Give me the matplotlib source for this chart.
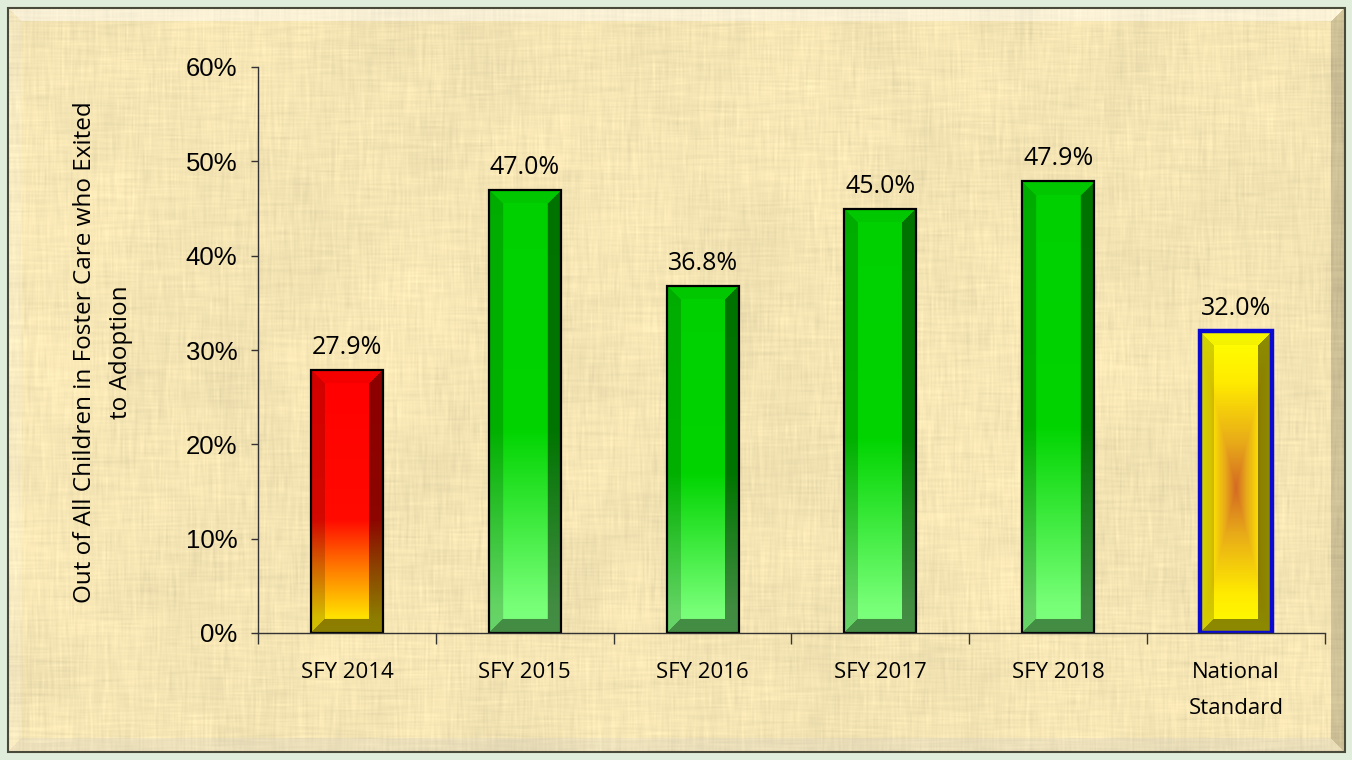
import numpy as np
import matplotlib.pyplot as plt
from matplotlib.patches import Rectangle

# data
categories = ["SFY 2014", "SFY 2015", "SFY 2016", "SFY 2017", "SFY 2018", "National\nStandard"]
values = [0.279, 0.470, 0.368, 0.450, 0.479, 0.320]
kinds = ["red", "green", "green", "green", "green", "yellow"]
yticks = [0, 0.1, 0.2, 0.3, 0.4, 0.5, 0.6]
ylabel = "Out of All Children in Foster Care who Exited\nto Adoption"

W_FIG, H_FIG, DPI = 1352, 760, 100
fig = plt.figure(figsize=(W_FIG / DPI, H_FIG / DPI), dpi=DPI)
fig.patch.set_facecolor("#e1eddb")


def blur(a, k, axis):
    # simple box blur along one axis
    c = np.cumsum(np.pad(a, [(k, k) if i == axis else (0, 0) for i in range(a.ndim)], mode="edge"), axis=axis)
    n = a.shape[axis]
    hi = np.take(c, np.arange(2 * k, 2 * k + n), axis=axis)
    lo = np.take(c, np.arange(0, n), axis=axis)
    return (hi - lo) / (2 * k)


# parchment texture for the panel (decoration only)
px, py, pw, ph = 8, 8, 1337, 744
rng = np.random.default_rng(7)
vert = blur(np.repeat(rng.normal(size=(ph // 18 + 1, pw)), 18, axis=0)[:ph], 1, 1)
vert = blur(vert, 10, 0)
horz = blur(np.repeat(rng.normal(size=(ph, pw // 22 + 1)), 22, axis=1)[:, :pw], 1, 0)
horz = blur(horz, 12, 1)
blot = np.kron(rng.normal(size=(ph // 50 + 1, pw // 50 + 1)), np.ones((50, 50)))[:ph, :pw]
blot = blur(blur(blot, 35, 0), 35, 1)
shade = 0.02 * vert + 0.018 * horz + 0.015 * blot
base = np.array([245, 229, 180]) / 255.0
tex = np.clip(base[None, None, :] * (1 + shade[..., None]), 0, 1)

# bevel on the panel
yy, xx = np.mgrid[0:ph, 0:pw]
d = np.stack([yy, pw - 1 - xx, ph - 1 - yy, xx])  # top, right, bottom, left
edge = d.argmin(axis=0)
inb = d.min(axis=0) < 14
white = np.ones(3)
for e, (mix, f) in enumerate([(0.45, 1.0), (0.0, 0.84), (0.2, 0.95), (0.15, 1.0)]):
    m = inb & (edge == e)
    tex[m] = (tex[m] * (1 - mix) + white * mix) * f

bg = fig.add_axes([px / W_FIG, (H_FIG - py - ph) / H_FIG, pw / W_FIG, ph / H_FIG], zorder=0)
bg.imshow(tex, aspect="auto", interpolation="bilinear")
bg.axis("off")
fig.patches.append(Rectangle((px / W_FIG, (H_FIG - py - ph) / H_FIG), pw / W_FIG, ph / H_FIG,
                             transform=fig.transFigure, fill=False, edgecolor="#4a4a3a", lw=1.5, zorder=1))

# main axes
ax_l, ax_r, ax_t, ax_b = 258, 1325, 67, 633
ax = fig.add_axes([ax_l / W_FIG, (H_FIG - ax_b) / H_FIG, (ax_r - ax_l) / W_FIG, (ax_b - ax_t) / H_FIG], zorder=2)
ax.set_facecolor("none")
ax.set_xlim(-0.5, len(categories) - 0.5)
ax.set_ylim(0, 0.6)

px_per_x = (ax_r - ax_l) / len(categories)
px_per_y = (ax_b - ax_t) / 0.6
bar_w = 72 / px_per_x
bev = 14


def interp_rgb(t, stops, cols):
    cols = np.array(cols) / 255.0
    return np.stack([np.interp(t, stops, cols[:, i]) for i in range(3)], axis=-1)


def bar_image(kind, hpx, wpx):
    r, c = np.mgrid[0:hpx, 0:wpx]
    fb = 1 - r / max(hpx - 1, 1)  # fraction from bottom
    if kind == "red":
        img = interp_rgb(fb, [0, 0.06, 0.25, 0.43, 1],
                         [(255, 232, 0), (255, 225, 0), (255, 120, 0), (255, 10, 0), (255, 0, 0)])
    elif kind == "green":
        img = interp_rgb(fb, [0, 0.06, 0.46, 1],
                         [(125, 255, 125), (120, 255, 120), (0, 212, 0), (0, 208, 0)])
    else:
        dx = np.abs(c - (wpx - 1) / 2) / (wpx / 2)
        dy = np.abs(r - (hpx - 1) * 0.52) / (hpx / 2)
        s = np.maximum(dx, dy)
        img = interp_rgb(s, [0, 0.3, 0.7, 1],
                         [(212, 105, 35), (232, 170, 25), (255, 235, 0), (255, 255, 0)])
    dd = np.stack([r, wpx - 1 - c, hpx - 1 - r, c])  # top, right, bottom, left
    e = dd.argmin(axis=0)
    m = dd.min(axis=0) < bev
    for k, f in enumerate([0.96, 0.55, 0.55, 0.83]):
        sel = m & (e == k)
        img[sel] = img[sel] * f
    return img


for i, (v, kind) in enumerate(zip(values, kinds)):
    hpx = int(round(v * px_per_y))
    ax.imshow(bar_image(kind, hpx, 72), extent=(i - bar_w / 2, i + bar_w / 2, 0, v),
              aspect="auto", interpolation="bilinear", zorder=2)
    if kind == "yellow":
        ax.add_patch(Rectangle((i - bar_w / 2, 0), bar_w, v, fill=False, edgecolor="#0a0ad2", lw=3.2, zorder=3))
    else:
        ax.add_patch(Rectangle((i - bar_w / 2, 0), bar_w, v, fill=False, edgecolor="black", lw=1.6, zorder=3))
    ax.annotate(f"{v:.1%}", (i, v), xytext=(0, 7), textcoords="offset points",
                ha="center", va="bottom", fontsize=18, family="Open Sans", color="black")

ax.set_aspect("auto")

for s in ["top", "right"]:
    ax.spines[s].set_visible(False)
for s in ["left", "bottom"]:
    ax.spines[s].set_color("#333333")
    ax.spines[s].set_linewidth(1.0)
    ax.spines[s].set_zorder(4)

ax.set_yticks(yticks)
ax.set_yticklabels([f"{t:.0%}" for t in yticks], family="Liberation Sans", fontsize=18.5)
ax.tick_params(axis="y", direction="out", length=5, width=1, color="#333333", pad=10)

ax.set_xticks(range(len(categories)))
ax.set_xticklabels(categories, family="Open Sans", fontsize=16, linespacing=1.95, va="top")
ax.set_xticks(np.arange(-0.5, len(categories), 1.0), minor=True)
ax.tick_params(axis="x", which="major", length=0, pad=21)
ax.tick_params(axis="x", which="minor", direction="out", length=8, width=1, color="#333333")

fig.text(103 / W_FIG, (H_FIG - 352) / H_FIG, ylabel, rotation=90, ha="center", va="center",
         multialignment="center", fontsize=17.5, family="Open Sans", linespacing=1.7)

fig.savefig("out.png", dpi=DPI, facecolor=fig.get_facecolor())
